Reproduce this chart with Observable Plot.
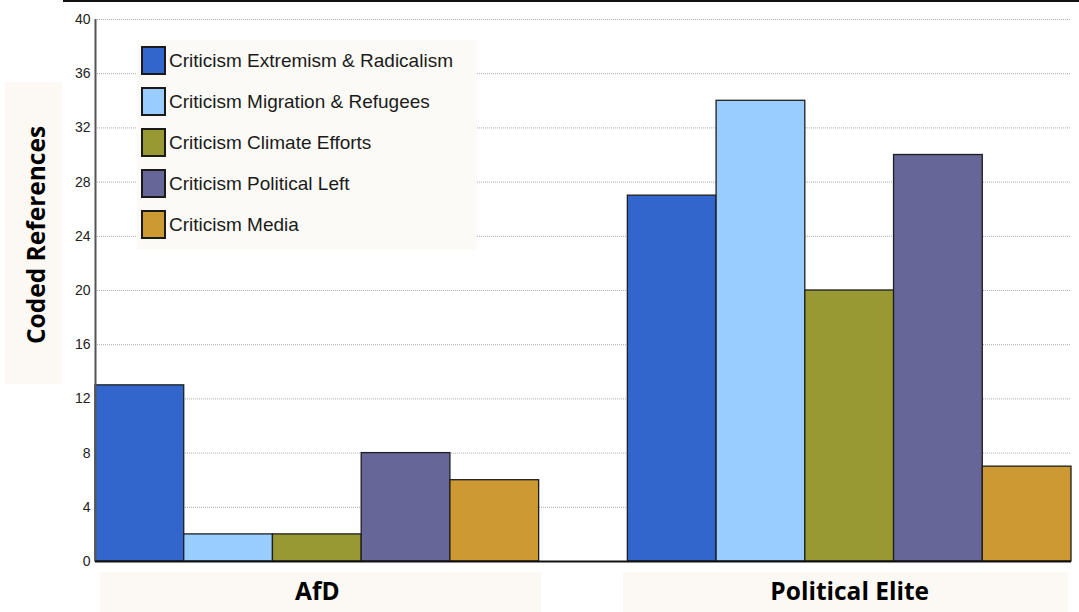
<!DOCTYPE html>
<html>
<head>
<meta charset="utf-8">
<script src="https://cdn.jsdelivr.net/npm/d3@7"></script>
<script src="https://cdn.jsdelivr.net/npm/@observablehq/plot@0.6"></script>
<style>
  html, body { margin: 0; padding: 0; background: #fff; }
  #wrap { position: relative; width: 1079px; height: 612px; overflow: hidden; background: #fff; }
  .box { position: absolute; background: #fcf9f4; }
  #chart { position: absolute; left: 0; top: 0; z-index: 2; }
  #legend { position: absolute; left: 137px; top: 40px; width: 340px; height: 210px; background: #fcfaf6; z-index: 3; }
  .row { position: absolute; left: 4px; height: 29px; display: flex; align-items: center; }
  .sw { width: 21px; height: 25px; border: 2px solid #1a1a1a; box-sizing: content-box; }
  .lt { margin-left: 3px; font-family: "Liberation Sans", Arial, sans-serif; font-size: 19px; color: #1a1a1a; white-space: nowrap; }
  #ylab { position: absolute; left: 35px; top: 235px; transform: translate(-50%, -50%) rotate(-90deg); font-family: "Open Sans", sans-serif; font-weight: bold; font-size: 24.5px; color: #000; white-space: nowrap; z-index: 2; }
  #topline { position: absolute; left: 63px; top: 0; width: 1016px; height: 2px; background: #111; z-index: 4; }
</style>
</head>
<body>
<div id="wrap">
  <div id="topline"></div>
  <div class="box" style="left:5px; top:82px; width:57px; height:302px;"></div>
  <div id="ylab">Coded References</div>
  <div class="box" style="left:100px; top:572px; width:441px; height:40px;"></div>
  <div class="box" style="left:623px; top:572px; width:445px; height:40px;"></div>
  <div id="chart"></div>
  <div id="legend"></div>
</div>
<script>
const groups = ["AfD", "Political Elite"];
const categories = [
  "Criticism Extremism & Radicalism",
  "Criticism Migration & Refugees",
  "Criticism Climate Efforts",
  "Criticism Political Left",
  "Criticism Media"
];
const afdValues = [13, 2, 2, 8, 6];
const eliteValues = [27, 34, 20, 30, 7];
const colors = ["#3366cc", "#99ccff", "#999933", "#666699", "#cc9933"];
const yTicks = [0, 4, 8, 12, 16, 20, 24, 28, 32, 36, 40];

const seriesByGroup = [afdValues, eliteValues];
const data = [];
groups.forEach((g, gi) => {
  categories.forEach((c, ci) => {
    data.push({group: g, category: c, slot: gi * (categories.length + 1) + ci, value: seriesByGroup[gi][ci]});
  });
});
const nSlots = groups.length * (categories.length + 1) - 1;
const groupCenters = groups.map((g, gi) => gi * (categories.length + 1) + categories.length / 2);

const chart = Plot.plot({
  width: 1079,
  height: 612,
  marginLeft: 95,
  marginRight: 8,
  marginTop: 19,
  marginBottom: 51,
  style: {background: "transparent"},
  x: {domain: [0, nSlots], axis: null},
  y: {domain: [0, 40], axis: null},
  color: {domain: categories, range: colors},
  marks: [
    Plot.gridY({ticks: yTicks.filter(t => t > 0), stroke: "#aaaaaa", strokeOpacity: 1, strokeDasharray: "1,1"}),
    Plot.rectY(data, {x1: "slot", x2: d => d.slot + 1, y: "value", fill: "category", stroke: "#1e1e1e", strokeWidth: 1.3}),
    Plot.ruleX([0], {stroke: "#555", strokeWidth: 2}),
    Plot.ruleY([0], {stroke: "#111", strokeWidth: 2}),
    Plot.axisY({ticks: yTicks, tickSize: 0, tickPadding: 5, label: null, fontSize: 14, fontFamily: "Liberation Sans Narrow, Liberation Sans, sans-serif", fill: "#222"}),
    Plot.axisX({ticks: groupCenters, tickFormat: (d, i) => groups[i], tickSize: 0, tickPadding: 21, label: null, fontSize: 24.5, fontWeight: "bold", fontFamily: "Open Sans, sans-serif", fill: "#000"})
  ]
});
document.getElementById("chart").appendChild(chart);

const legend = document.getElementById("legend");
categories.forEach((c, i) => {
  const row = document.createElement("div");
  row.className = "row";
  row.style.top = (6 + i * 41) + "px";
  const sw = document.createElement("div");
  sw.className = "sw";
  sw.style.background = colors[i];
  const lt = document.createElement("div");
  lt.className = "lt";
  lt.textContent = c;
  row.appendChild(sw);
  row.appendChild(lt);
  legend.appendChild(row);
});
</script>
</body>
</html>
